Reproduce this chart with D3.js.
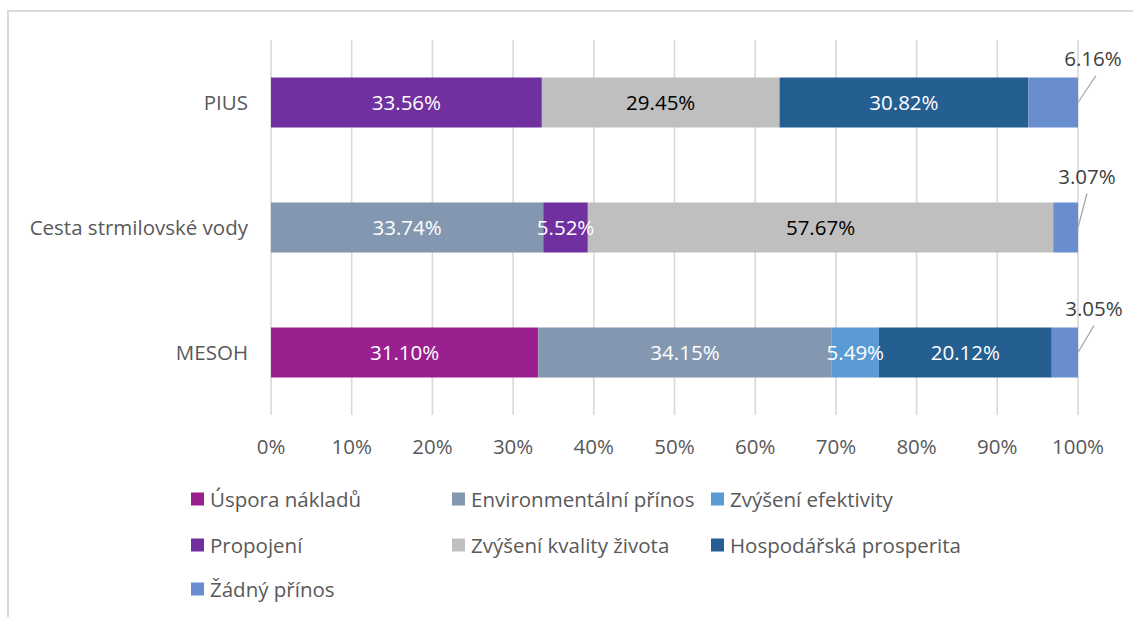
<!DOCTYPE html>
<html>
<head>
<meta charset="utf-8">
<script src="https://cdn.jsdelivr.net/npm/d3@7"></script>
<style>
  body { margin: 0; background: #fff; }
  svg text { font-family: "Open Sans", "Noto Sans", sans-serif; }
</style>
</head>
<body>
<svg id="mainSvg" width="1133" height="617"></svg>
<script>
const categories = ["PIUS", "Cesta strmilovské vody", "MESOH"];
const seriesNames = ["Úspora nákladů", "Environmentální přínos", "Zvýšení efektivity",
    "Propojení", "Zvýšení kvality života", "Hospodářská prosperita", "Žádný přínos"];

// values per series, in order PIUS, Cesta, MESOH
const usporaNakladu = [0, 0, 31.10];
const environmentalni = [0, 33.74, 34.15];
const zvyseniEfektivity = [0, 0, 5.49];
const propojeni = [33.56, 5.52, 0];
const kvalitaZivota = [29.45, 57.67, 0];
const prosperita = [30.82, 0, 20.12];
const zadnyPrinos = [6.16, 3.07, 3.05];

const xTicks = [0, 0.1, 0.2, 0.3, 0.4, 0.5, 0.6, 0.7, 0.8, 0.9, 1];

const colors = ["#9a1f8f", "#8497b0", "#5b9bd5", "#7030a0", "#bfbfbf", "#255e91", "#698ed0"];
// callout offsets for the last series (label placed outside the bar)
const calloutOffset = [{dx: 15, dy: -37, lx: 18, ly: -27}, {dx: 9, dy: -44, lx: 9, ly: -34}, {dx: 16, dy: -37, lx: 16, ly: -27}];
const fontSize = 20.5;

let allValues = [usporaNakladu, environmentalni, zvyseniEfektivity, propojeni, kvalitaZivota, prosperita, zadnyPrinos];

let rows = categories.map((c, i) => {
    let r = {cat: c};
    seriesNames.forEach((s, j) => { r[s] = allValues[j][i]; });
    return r;
});

let canvas = d3.select("#mainSvg");

// outer frame of the chart object
canvas.append("path")
    .attr("d", "M8,640 L8,11 L1140,11")
    .attr("fill", "none")
    .attr("stroke", "#d9d9d9")
    .attr("stroke-width", 2);

let x = d3.scaleLinear().domain([0, 1]).range([271, 1078]);
let y = d3.scaleBand().domain(categories).range([40, 415]).paddingInner(0.6).paddingOuter(0.3);

// gridlines
canvas.append("g").selectAll("line")
    .data(xTicks)
    .enter()
        .append("line")
        .attr("x1", d => x(d))
        .attr("x2", d => x(d))
        .attr("y1", 40)
        .attr("y2", 415)
        .attr("stroke", "#d9d9d9")
        .attr("stroke-width", 1.6);

// tick labels
canvas.append("g").selectAll("text")
    .data(xTicks)
    .enter()
        .append("text")
        .attr("x", d => x(d))
        .attr("y", 454)
        .attr("text-anchor", "middle")
        .attr("font-size", fontSize)
        .attr("fill", "#595959")
        .text(d => d3.format(".0%")(d));

// category labels
canvas.append("g").selectAll("text")
    .data(categories)
    .enter()
        .append("text")
        .attr("x", 248)
        .attr("y", d => y(d) + y.bandwidth() / 2 + 7.5)
        .attr("text-anchor", "end")
        .attr("font-size", fontSize)
        .attr("fill", "#595959")
        .text(d => d);

let stacked = d3.stack().keys(seriesNames).offset(d3.stackOffsetExpand)(rows);

let layers = canvas.append("g").selectAll("g")
    .data(stacked)
    .enter()
        .append("g")
        .attr("fill", (d, i) => colors[i]);

layers.selectAll("rect")
    .data(d => d)
    .enter()
        .append("rect")
        .attr("x", d => x(d[0]))
        .attr("y", d => y(d.data.cat))
        .attr("width", d => x(d[1]) - x(d[0]))
        .attr("height", y.bandwidth());

// labels inside the segments
let lastKey = seriesNames[seriesNames.length - 1];
stacked.forEach((layer, i) => {
    if (layer.key === lastKey) return;
    canvas.append("g").selectAll("text")
        .data(layer.filter(d => d.data[layer.key] > 0))
        .enter()
            .append("text")
            .attr("x", d => (x(d[0]) + x(d[1])) / 2)
            .attr("y", d => y(d.data.cat) + y.bandwidth() / 2 + 7.5)
            .attr("text-anchor", "middle")
            .attr("font-size", fontSize)
            .attr("fill", layer.key === "Zvýšení kvality života" ? "#000" : "#fff")
            .text(d => d.data[layer.key].toFixed(2) + "%");
});

// callout labels for the last series
let lastLayer = stacked[stacked.length - 1];
let callouts = canvas.append("g").selectAll("g")
    .data(lastLayer)
    .enter()
        .append("g");

callouts.append("line")
    .attr("x1", d => x(d[1]))
    .attr("y1", d => y(d.data.cat) + y.bandwidth() / 2)
    .attr("x2", (d, i) => x(d[1]) + calloutOffset[i].lx)
    .attr("y2", (d, i) => y(d.data.cat) + y.bandwidth() / 2 + calloutOffset[i].ly)
    .attr("stroke", "#a6a6a6")
    .attr("stroke-width", 1.3);

callouts.append("text")
    .attr("x", (d, i) => x(d[1]) + calloutOffset[i].dx)
    .attr("y", (d, i) => y(d.data.cat) + y.bandwidth() / 2 + calloutOffset[i].dy)
    .attr("text-anchor", "middle")
    .attr("font-size", fontSize)
    .attr("fill", "#404040")
    .text(d => d.data[lastKey].toFixed(2) + "%");

// legend
const legendCols = [191, 452, 711];
const legendRows = [499, 545, 589];
let legend = canvas.append("g").selectAll("g")
    .data(seriesNames)
    .enter()
        .append("g")
        .attr("transform", (d, i) => "translate(" + legendCols[i % 3] + "," + legendRows[Math.floor(i / 3)] + ")");

legend.append("rect")
    .attr("x", 0)
    .attr("y", -6.5)
    .attr("width", 13)
    .attr("height", 13)
    .attr("fill", (d, i) => colors[i]);

legend.append("text")
    .attr("x", 19)
    .attr("y", 7.5)
    .attr("font-size", fontSize)
    .attr("fill", "#595959")
    .text(d => d);
</script>
</body>
</html>
